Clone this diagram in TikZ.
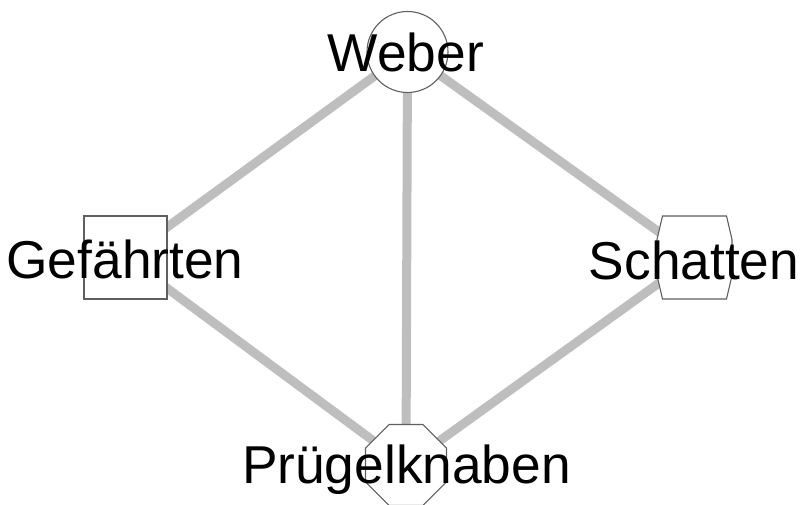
\documentclass[tikz,border=0pt]{standalone}
\usepackage{fontspec}
\setmainfont{Liberation Sans}
\usetikzlibrary{shapes.geometric}
\pgfdeclarelayer{bg}
\pgfsetlayers{bg,main}
\definecolor{edgegray}{RGB}{190,190,190}
\definecolor{bordergray}{RGB}{95,95,95}
\tikzset{
  shapebox/.style={draw=bordergray, line width=1.1pt, fill=white, inner sep=0pt},
  link/.style={draw=edgegray, line width=9pt},
  lbl/.style={font=\fontsize{53.3}{60}\selectfont, inner sep=0pt, anchor=base},
}
\begin{document}
\begin{tikzpicture}[x=1pt,y=-1pt]
\useasboundingbox (0,0) rectangle (800,505);
\node[shapebox, circle, minimum size=81pt] (weber) at (407.5,52) {};
\node[shapebox, rectangle, minimum size=83pt] (gef) at (125.5,257.5) {};
\node[shapebox, regular polygon, regular polygon sides=8, minimum size=87.7pt] (pru) at (406,465) {};
\node[inner sep=0pt, minimum width=75pt, minimum height=83pt] (sch) at (694.5,257.5) {};
\draw[shapebox] ([shift={(-32,-41.5)}]sch.center) -- ([shift={(-37.5,-18)}]sch.center)
  -- ([shift={(-37.5,18)}]sch.center) -- ([shift={(-32,41.5)}]sch.center)
  -- ([shift={(32,41.5)}]sch.center) -- ([shift={(37.5,18)}]sch.center)
  -- ([shift={(37.5,-18)}]sch.center) -- ([shift={(32,-41.5)}]sch.center) -- cycle;
\begin{pgfonlayer}{bg}
  \draw[link] (weber.center) -- (gef.center);
  \draw[link] (weber.center) -- (sch.center);
  \draw[link] (weber.center) -- (pru.center);
  \draw[link] (gef.center) -- (pru.center);
  \draw[link] (sch.center) -- (pru.center);
\end{pgfonlayer}
\node[lbl] (tweber) at (406,72) {Weber};
\node[lbl] (tgef) at (125,278) {Gefährten};
\node[lbl] (tsch) at (694,279) {Schatten};
\node[lbl] (tpru) at (406.5,483) {Prügelknaben};
\end{tikzpicture}
\end{document}
